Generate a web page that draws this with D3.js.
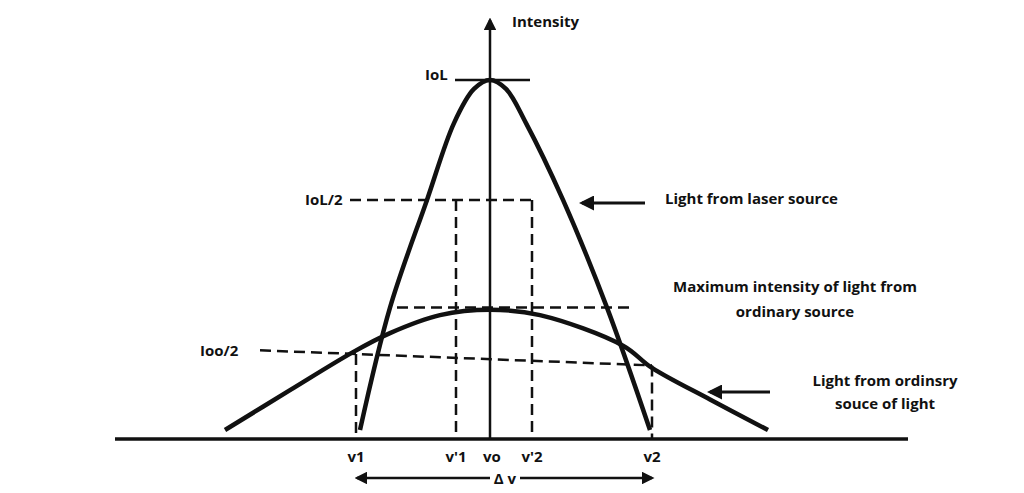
<!DOCTYPE html>
<html><head><meta charset="utf-8">
<script src="https://cdn.jsdelivr.net/npm/d3@7"></script>
<style>body{margin:0;background:#fff}text{font-family:"Open Sans",sans-serif;font-weight:700;font-size:15px;fill:#111}</style>
</head><body><svg id="c" width="1024" height="493"></svg>
<script>
// frequency offset from vo (u) vs intensity (% of IoL)
const laser = [[-65,2.5],[-50,36.6],[-31.5,66.6],[-18,88],[-8,97.5],[0,100],[8,97.5],[18,88],[36.5,66.6],[58.5,36.6],[80,2.5]];
const ordinary = [[-132.5,2.5],[-100,13.6],[-68.5,24.2],[-50,29.5],[-25,34.5],[0,36],[25,34.5],[66.5,26],[81,19.8],[110,11],[139,2.5]];
const freqTicks = [{u:-67,l:"v1"},{u:-17,l:"v'1"},{u:1,l:"vo"},{u:21,l:"v'2"},{u:81,l:"v2"}];
const halfLaser = {y:66.6, from:-70, left:-17, right:21};
const maxOrd = {y:36.6, from:-46.5, to:71};
const halfOrd = {y0:24.7, y1:20.5, from:-115, to:81, left:-67, right:81};

const svg = d3.select("#c");
const x = d3.scaleLinear().domain([-100,100]).range([290,690]);
const y = d3.scaleLinear().domain([0,100]).range([439,80]);
const line = d3.line().x(d=>x(d[0])).y(d=>y(d[1])).curve(d3.curveCatmullRom);

svg.append("defs").append("marker").attr("id","ah").attr("viewBox","0 0 10 10")
  .attr("refX",8).attr("refY",5).attr("markerWidth",5).attr("markerHeight",5).attr("orient","auto-start-reverse")
  .append("path").attr("d","M0,0L10,5L0,10z").attr("fill","#111");

const seg = (x1,y1,x2,y2,w,dash) => svg.append("line").attr("x1",x1).attr("y1",y1).attr("x2",x2).attr("y2",y2)
  .attr("stroke","#111").attr("stroke-width",w).attr("stroke-dasharray",dash||null);

// baseline and intensity axis
seg(115,439,908,439,3.5);
seg(x(0),439,x(0),20,2.5).attr("marker-end","url(#ah)");
svg.append("text").attr("x",512).attr("y",27).text("Intensity");

// dashed guides
const d = "11,6";
seg(x(halfLaser.from),y(halfLaser.y),x(halfLaser.right),y(halfLaser.y),2.5,d);
seg(x(halfLaser.left),y(halfLaser.y),x(halfLaser.left),439,2.5,d);
seg(x(halfLaser.right),y(halfLaser.y),x(halfLaser.right),439,2.5,d);
seg(x(maxOrd.from),y(maxOrd.y),x(maxOrd.to),y(maxOrd.y),2.5,d);
seg(x(halfOrd.from),y(halfOrd.y0),x(halfOrd.to),y(halfOrd.y1),2.5,d);
const yAt = u => halfOrd.y0+(halfOrd.y1-halfOrd.y0)*(u-halfOrd.from)/(halfOrd.to-halfOrd.from);
seg(x(halfOrd.left),y(yAt(halfOrd.left)),x(halfOrd.left),439,2.5,d);
seg(x(halfOrd.right),y(yAt(halfOrd.right)),x(halfOrd.right),439,2.5,d);

// curves
[laser,ordinary].forEach(s=>svg.append("path").attr("d",line(s)).attr("fill","none").attr("stroke","#111").attr("stroke-width",4.5));
seg(455,y(100),530,y(100),2.5);

// labels
const t = (xx,yy,s,a) => svg.append("text").attr("x",xx).attr("y",yy).attr("text-anchor",a||"start").text(s);
t(425,80,"IoL"); t(305,205,"IoL/2"); t(200,356,"Ioo/2");
freqTicks.forEach(f=>t(x(f.u),462,f.l,"middle"));
seg(357,478,490,478,2.5).attr("marker-start","url(#ah)");
seg(520,478,652,478,2.5).attr("marker-end","url(#ah)");
t(505,484,"Δ v","middle");

seg(645,203,582,203,3).attr("marker-end","url(#ah)");
t(665,204,"Light from laser source");
t(795,292,"Maximum intensity of light from","middle");
t(795,317,"ordinary source","middle");
seg(770,392,710,392,3).attr("marker-end","url(#ah)");
t(885,386,"Light from ordinsry","middle");
t(885,409,"souce of light","middle");
</script></body></html>
